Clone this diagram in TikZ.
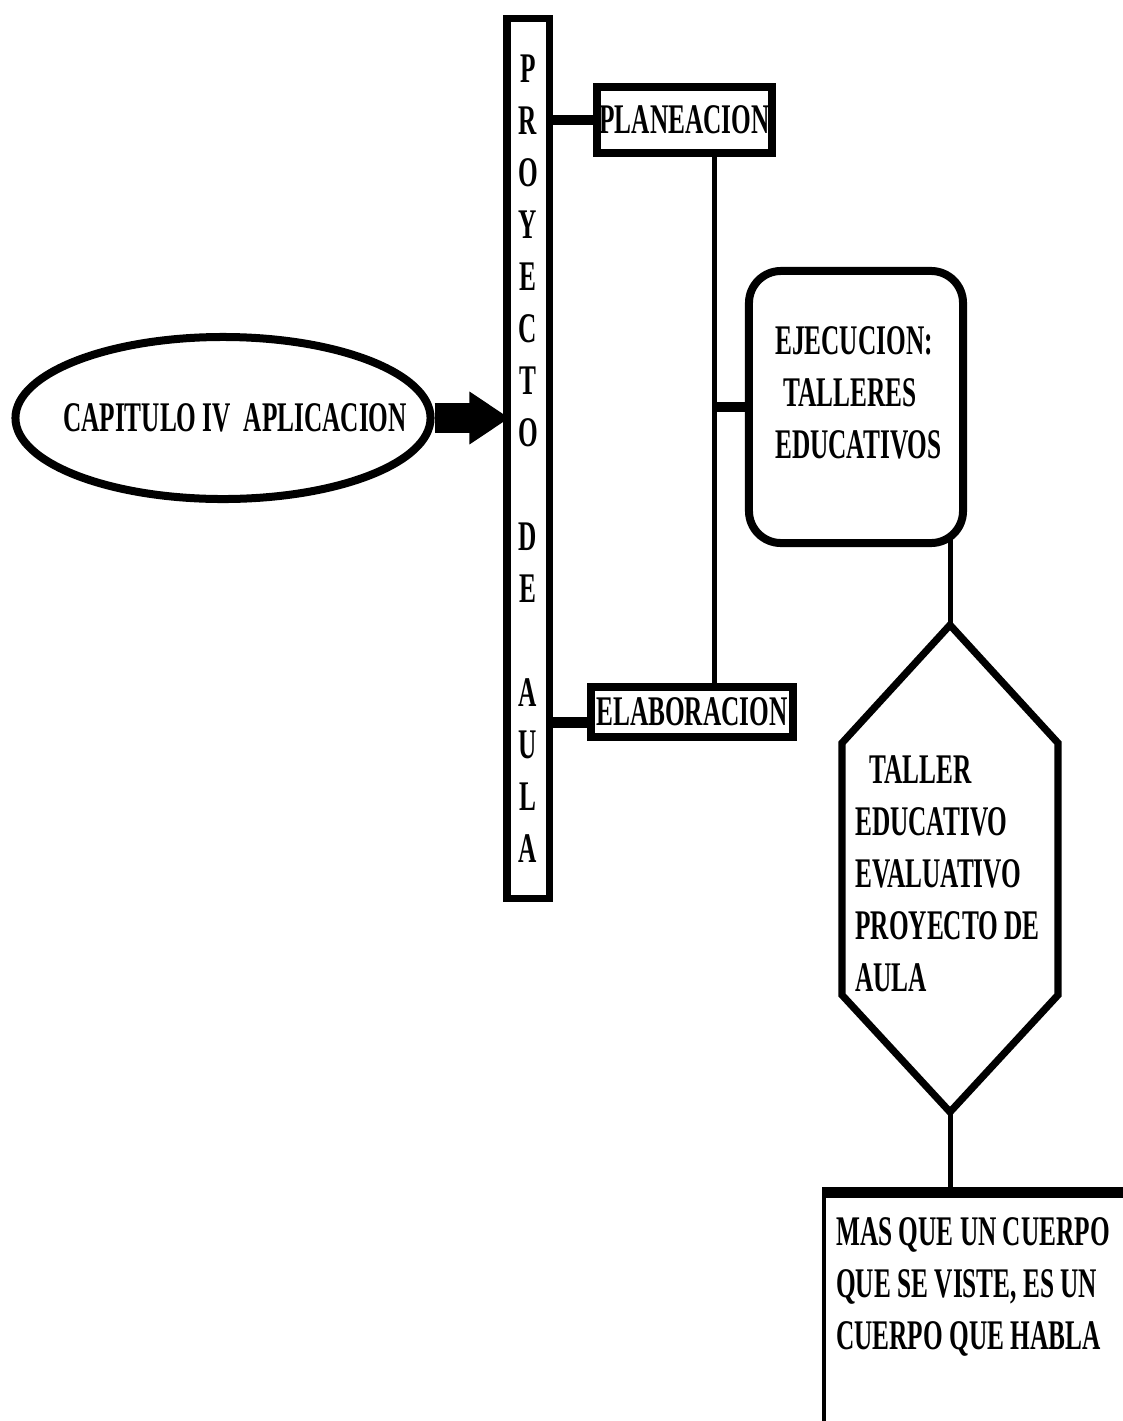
\documentclass[tikz,border=0pt]{standalone}
\usepackage{fontspec}
\setmainfont[FakeStretch=0.6]{Liberation Serif}
\usetikzlibrary{shapes.geometric,arrows.meta}

\begin{document}
\begin{tikzpicture}[x=0.025cm,y=-0.025cm,
	txt/.style={font=\fontsize{30}{37}\selectfont\bfseries, inner sep=0pt},
	caja/.style={draw, line width=0.2cm, txt}]
	\useasboundingbox (0,0) rectangle (1123,1421);

	\node[caja, ellipse, minimum width=10.375cm, minimum height=4.05cm] (cap) at (223,418) {};
	\node[txt] (captxt) at (235,418) {CAPITULO IV\ \ APLICACION};

	\node[caja, line width=0.175cm, minimum width=1.05cm, minimum height=21.975cm, align=center] (pda) at (528,458.5) {P\\R\\O\\Y\\E\\C\\T\\O\\\mbox{}\\D\\E\\\mbox{}\\A\\U\\L\\A};

	\node[caja, minimum width=4.375cm, minimum height=1.65cm] (plan) at (684.5,120) {PLANEACION};

	\node[caja, minimum width=5.05cm, minimum height=1.25cm] (elab) at (692,712) {ELABORACION};

	\node[caja, rounded corners=0.8cm, minimum width=5.35cm, minimum height=6.8cm] (ejec) at (856,407) {};
	\node[txt, anchor=west, align=left] (ejectxt) at (775,392.5) {EJECUCION:\\\hspace*{0.2cm}TALLERES\\EDUCATIVOS};

	\draw[line width=0.18cm] (950,625) coordinate (hexa) -- (1058,743) -- (1058,995) -- (950,1112) coordinate (hexb) -- (842,995) -- (842,743) -- cycle;
	\node[txt, anchor=west, align=left] (taller) at (855,873.5) {\hspace*{0.35cm}TALLER\\EDUCATIVO\\EVALUATIVO\\PROYECTO DE\\AULA};

	\draw[line width=0.1cm] (824,1430) -- (824,1187) coordinate (mas);
	\draw[line width=0.275cm] (822,1192.5) -- (1130,1192.5);
	\node[txt, anchor=west, align=left] (cuerpo) at (836,1286.5) {MAS QUE UN CUERPO\\QUE SE VISTE, ES UN\\CUERPO QUE HABLA};

	\draw[line width=0.75cm, -{Triangle[length=1cm 0 1, width=1.25cm 0 1]}] (cap.east) -- ([xshift=0.15cm]cap.east -| pda.west);

	\draw[line width=0.25cm] (plan.west -| pda.east) -- (plan.west);

	\coordinate (elabc) at ([yshift=-0.25cm]elab.west);
	\draw[line width=0.275cm] (elabc -| pda.east) -- (elabc);

	\coordinate (eje) at (714,157);
	\draw[line width=0.125cm] (plan.south -| eje) -- (elab.north -| eje);
	\draw[line width=0.25cm] (ejec.west -| eje) -- (ejec.west);

	\coordinate (ejecb) at ([yshift=0.35cm]ejec.south);
	\draw[line width=0.125cm] (ejecb -| hexa) -- (hexa);
	\draw[line width=0.125cm] (hexb) -- (hexb |- mas);
\end{tikzpicture}
\end{document}
